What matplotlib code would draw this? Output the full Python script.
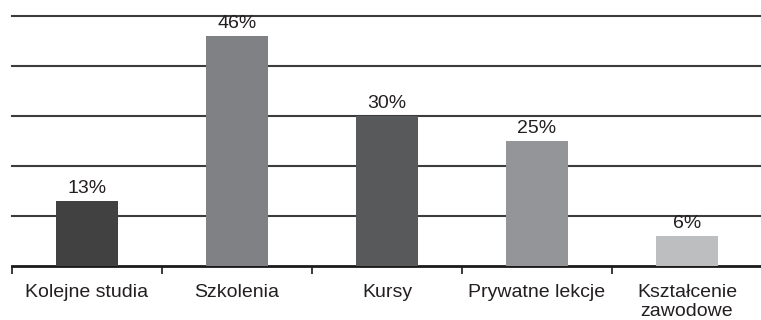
import matplotlib
matplotlib.use("Agg")
import matplotlib.pyplot as plt
import numpy as np

categories = ["Kolejne studia", "Szkolenia", "Kursy", "Prywatne lekcje", "Kształcenie\nzawodowe"]
values = [13, 46, 30, 25, 6]
labels = ["13%", "46%", "30%", "25%", "6%"]
colors = ["#414142", "#808184", "#58595b", "#939598", "#bcbec0"]

plt.rcParams['font.family'] = ['Liberation Sans', 'DejaVu Sans']

fig = plt.figure(figsize=(7.61, 3.2), dpi=100)
ax = fig.add_axes([12/761, 54.5/320, 750/761, 249/320])

x = np.arange(len(categories))
ax.bar(x, values, width=0.41, color=colors, zorder=3)
for xi, v, l in zip(x, values, labels):
    ax.text(xi, v + 1.6, l, ha='center', va='baseline', fontsize=14, color='#231f20', zorder=4)

ax.set_xlim(-0.5, len(categories) - 0.5)
ax.set_ylim(0, 50)
ax.set_yticks([10, 20, 30, 40, 50])
ax.yaxis.grid(True, color='#3c3c3c', linewidth=1.5, zorder=0)
for gl in ax.get_ygridlines():
    gl.set_clip_on(False)
ax.tick_params(axis='y', left=False, labelleft=False)
for s in ['left', 'right', 'top']:
    ax.spines[s].set_visible(False)
ax.spines['bottom'].set_linewidth(2)
ax.spines['bottom'].set_color('#1a1a1a')

ax.set_xticks(x)
ax.set_xticklabels(categories, fontsize=14, color='#231f20', linespacing=1.15)
ax.tick_params(axis='x', which='major', length=0, pad=13)
ax.set_xticks(np.arange(-0.5, len(categories) + 0.5, 1), minor=True)
ax.tick_params(axis='x', which='minor', length=6, width=1.2, color='#1a1a1a', direction='out')

fig.savefig("out.png", dpi=100)
